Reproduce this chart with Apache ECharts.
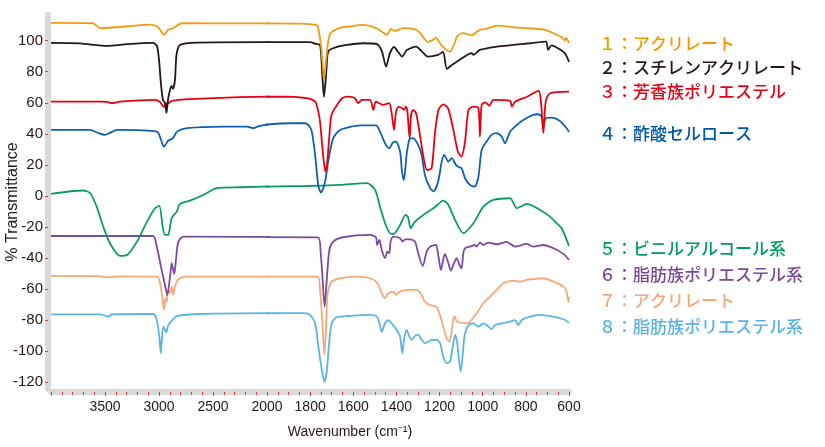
<!DOCTYPE html>
<html><head><meta charset="utf-8">
<script src="https://cdn.jsdelivr.net/npm/echarts@6/dist/echarts.min.js"></script>
<style>html,body{margin:0;padding:0;background:#fff}#c{width:825px;height:447px}</style>
</head><body><div id="c"></div>
<script>
// [wavenumber (cm-1), % transmittance (offset)] pairs
const acrylate1 = [[4000,111.4],[3611,111.2],[3546,108.0],[3315,109.1],[3083,110.3],[3009,108.8],[2954,103.7],[2917,106.9],[2870,108.0],[2787,111.2],[2157,111.1],[1847,110.9],[1773,110.1],[1764,108.8],[1750,97.2],[1740,81.1],[1736,74.7],[1726,87.6],[1708,104.3],[1662,108.2],[1615,109.1],[1555,110.1],[1494,108.0],[1466,105.6],[1444,103.7],[1425,107.5],[1407,106.2],[1370,108.0],[1314,107.2],[1291,105.0],[1254,99.2],[1230,100.5],[1217,101.7],[1189,96.6],[1152,92.9],[1128,99.2],[1119,102.6],[1091,104.8],[1054,103.4],[1013,106.9],[975,108.0],[934,109.7],[841,108.4],[795,108.0],[711,106.9],[656,103.7],[628,101.7],[619,99.8],[614,101.7],[600,98.5]];
const styreneAcrylate2 = [[4000,98.5],[3731,98.2],[3481,96.6],[3296,97.7],[3056,98.5],[3019,96.6],[3000,87.6],[2981,71.5],[2963,61.8],[2944,59.9],[2931,53.5],[2917,61.8],[2898,68.3],[2884,70.8],[2870,68.9],[2852,74.7],[2838,90.8],[2806,97.2],[2648,98.7],[2065,99.0],[1801,99.0],[1773,97.9],[1754,97.2],[1745,81.1],[1736,63.8],[1726,77.9],[1717,92.7],[1694,95.1],[1629,97.2],[1555,98.3],[1490,97.7],[1467,92.9],[1448,83.3],[1430,91.9],[1411,95.9],[1393,92.9],[1374,89.7],[1351,94.0],[1309,96.1],[1281,92.9],[1254,89.7],[1207,90.8],[1184,92.7],[1166,81.8],[1142,84.4],[1119,86.5],[1073,90.8],[1051,91.9],[1043,90.8],[1013,94.0],[934,96.1],[860,97.2],[781,98.3],[707,99.4],[697,94.0],[681,96.9],[651,95.1],[619,91.9],[600,86.3]];
const aromaticPolyester3 = [[4000,60.7],[3546,60.7],[3481,60.5],[3435,59.7],[3361,60.7],[3037,61.8],[2991,60.5],[2954,57.3],[2935,59.2],[2912,59.7],[2880,61.2],[2713,62.3],[2250,63.6],[1907,63.9],[1814,62.9],[1777,60.7],[1764,55.4],[1754,47.6],[1740,26.4],[1729,15.6],[1722,20.0],[1713,34.8],[1701,52.2],[1675,58.6],[1652,62.9],[1624,63.9],[1592,62.9],[1578,59.7],[1560,61.8],[1522,61.8],[1507,55.4],[1495,60.7],[1462,58.6],[1434,59.7],[1423,54.1],[1411,42.5],[1402,54.1],[1390,57.5],[1374,56.5],[1365,55.4],[1356,57.5],[1349,54.1],[1339,37.3],[1332,52.2],[1323,55.4],[1309,53.3],[1291,39.3],[1274,24.5],[1258,16.7],[1237,17.8],[1221,41.2],[1205,55.4],[1184,59.0],[1161,56.5],[1138,43.8],[1115,28.5],[1098,25.3],[1082,35.0],[1066,55.4],[1043,57.5],[1020,56.5],[1013,38.2],[1005,58.6],[989,60.3],[969,58.1],[951,61.8],[873,61.2],[865,57.5],[850,60.7],[795,63.9],[741,67.6],[730,60.7],[719,40.4],[708,60.7],[688,66.1],[600,67.2]];
const celluloseAcetate4 = [[4000,42.5],[3639,42.5],[3565,40.6],[3500,39.3],[3454,40.6],[3389,42.5],[3019,41.4],[2981,36.1],[2954,31.7],[2917,35.4],[2870,37.2],[2833,41.4],[2741,43.6],[2407,44.6],[2185,44.6],[2130,43.6],[2065,45.1],[1893,46.8],[1824,46.8],[1801,44.4],[1791,40.6],[1777,26.4],[1762,6.4],[1750,2.3],[1731,9.0],[1716,22.5],[1693,37.2],[1662,42.5],[1615,44.4],[1569,45.4],[1495,45.4],[1476,41.4],[1453,33.9],[1433,30.7],[1416,34.5],[1402,35.0],[1383,28.5],[1374,15.5],[1365,10.3],[1353,26.4],[1339,36.7],[1323,37.2],[1299,32.8],[1283,26.4],[1268,13.5],[1244,5.0],[1228,2.9],[1207,9.0],[1190,22.1],[1179,26.4],[1159,22.1],[1144,24.3],[1121,19.3],[1098,17.8],[1082,11.4],[1059,7.1],[1038,6.0],[1020,12.2],[1005,29.6],[982,35.0],[959,39.3],[936,40.4],[912,38.2],[897,33.9],[873,41.4],[842,45.7],[812,48.9],[766,52.2],[743,52.6],[727,51.1],[719,45.7],[707,50.0],[681,50.4],[642,48.3],[611,43.6],[600,41.2]];
const vinylAlcohol5 = [[4000,1.3],[3704,3.5],[3639,1.9],[3577,-6.9],[3516,-19.8],[3454,-30.5],[3361,-38.6],[3296,-38.0],[3204,-29.4],[3111,-16.5],[3037,-7.9],[2997,-6.4],[2966,-19.8],[2944,-25.1],[2914,-25.1],[2898,-20.0],[2882,-14.2],[2836,-10.1],[2806,-5.1],[2713,-3.0],[2590,0.6],[2466,5.0],[2250,5.6],[1819,6.4],[1662,7.1],[1536,8.2],[1499,3.9],[1476,-6.9],[1453,-17.4],[1430,-24.0],[1414,-24.5],[1383,-18.7],[1358,-12.2],[1346,-13.7],[1334,-20.8],[1314,-16.5],[1275,-12.2],[1229,-7.9],[1182,-3.0],[1159,-5.8],[1128,-15.5],[1090,-24.0],[1043,-17.6],[997,-6.9],[951,-2.6],[873,-1.5],[842,-7.9],[795,-5.1],[734,-9.0],[688,-13.3],[657,-17.6],[634,-20.8],[600,-32.2]];
const aliphaticPolyester6 = [[4000,-25.8],[3056,-25.8],[3021,-32.7],[2975,-47.7],[2935,-60.5],[2923,-63.8],[2898,-52.2],[2882,-43.3],[2868,-47.7],[2858,-50.2],[2843,-41.2],[2821,-29.4],[2775,-26.2],[1764,-26.7],[1751,-36.9],[1742,-54.1],[1733,-71.3],[1723,-54.1],[1711,-34.8],[1693,-29.4],[1648,-26.6],[1522,-25.1],[1495,-26.6],[1489,-31.6],[1479,-28.3],[1468,-34.8],[1453,-40.1],[1442,-35.9],[1433,-36.9],[1427,-29.4],[1414,-26.2],[1383,-27.2],[1371,-29.4],[1360,-27.9],[1337,-27.9],[1314,-29.4],[1299,-36.9],[1278,-45.1],[1260,-35.9],[1244,-32.6],[1229,-31.9],[1216,-31.6],[1205,-39.1],[1194,-47.7],[1182,-40.1],[1175,-37.4],[1159,-43.3],[1148,-48.1],[1133,-43.3],[1121,-40.1],[1108,-44.4],[1098,-46.6],[1090,-36.9],[1082,-33.7],[1059,-32.6],[1036,-31.6],[1028,-32.6],[1013,-30.0],[997,-31.6],[974,-30.0],[936,-31.1],[889,-29.6],[850,-32.6],[796,-30.9],[766,-32.6],[719,-31.6],[672,-33.7],[626,-37.3],[600,-41.2]];
const acrylate7 = [[4000,-51.5],[3546,-51.7],[3481,-52.4],[3361,-51.8],[3016,-52.0],[2985,-58.4],[2966,-67.0],[2954,-73.4],[2942,-65.9],[2929,-68.1],[2915,-60.5],[2898,-62.6],[2882,-58.4],[2868,-63.7],[2852,-58.4],[2821,-53.6],[2744,-52.0],[1767,-52.0],[1754,-60.5],[1744,-79.9],[1734,-102.4],[1726,-84.2],[1719,-62.7],[1700,-55.2],[1662,-53.0],[1584,-52.0],[1522,-53.0],[1488,-56.2],[1468,-62.7],[1453,-65.9],[1438,-62.7],[1414,-61.6],[1402,-63.7],[1383,-61.6],[1352,-60.5],[1306,-60.5],[1283,-63.7],[1268,-68.1],[1244,-70.2],[1212,-71.7],[1183,-84.2],[1167,-91.6],[1155,-93.8],[1144,-87.4],[1136,-78.7],[1128,-77.7],[1121,-80.9],[1074,-82.0],[1059,-80.9],[1028,-75.5],[997,-69.1],[966,-64.8],[935,-60.5],[904,-56.2],[858,-54.5],[827,-55.2],[796,-54.1],[719,-53.0],[672,-55.2],[626,-58.4],[611,-61.6],[603,-68.1],[600,-65.0]];
const aliphaticPolyester8 = [[4000,-76.2],[3546,-76.2],[3469,-77.7],[3435,-76.2],[3053,-76.0],[3021,-79.8],[2997,-90.6],[2984,-101.3],[2972,-90.6],[2960,-84.2],[2944,-86.3],[2932,-87.9],[2917,-83.7],[2898,-81.6],[2868,-79.4],[2833,-77.3],[2620,-76.0],[1893,-75.5],[1833,-75.5],[1801,-76.6],[1777,-82.0],[1762,-97.0],[1746,-112.0],[1734,-119.6],[1723,-113.1],[1712,-94.8],[1700,-82.0],[1677,-78.1],[1615,-77.3],[1522,-76.6],[1491,-77.7],[1479,-82.0],[1468,-87.4],[1453,-82.0],[1438,-79.9],[1422,-82.0],[1399,-86.3],[1383,-90.6],[1373,-101.3],[1365,-92.7],[1353,-86.3],[1340,-90.6],[1329,-92.7],[1314,-90.1],[1299,-89.5],[1283,-92.7],[1268,-94.8],[1252,-93.8],[1237,-92.7],[1214,-92.7],[1198,-94.8],[1183,-103.5],[1167,-107.7],[1152,-106.7],[1139,-97.0],[1128,-89.5],[1118,-94.8],[1110,-105.6],[1102,-113.1],[1095,-105.6],[1085,-90.6],[1074,-85.2],[1059,-82.4],[1043,-82.0],[1020,-84.2],[997,-82.0],[982,-83.1],[959,-85.6],[943,-83.1],[912,-82.0],[873,-80.9],[850,-79.9],[835,-83.1],[819,-79.9],[781,-77.7],[734,-76.6],[672,-77.7],[626,-79.4],[600,-81.6]];

const seriesLabels = ['１：アクリレート','２：スチレンアクリレート','３：芳香族ポリエステル','４：酢酸セルロース','５：ビニルアルコール系','６：脂肪族ポリエステル系','７：アクリレート','８：脂肪族ポリエステル系'];
const lineColors = ['#f29a12','#231815','#e60012','#1160b0','#0b9b6b','#7b4b9d','#f5a878','#5cb4e6'];
const textColors = ['#f39800','#231815','#e60012','#0057a8','#009a63','#7a4a9a','#f5a67a','#58b2e4'];
const labelY = [44, 68, 92, 134, 249, 275, 301, 327];
const yTickValues = [100,80,60,40,20,0,-20,-40,-60,-80,-100,-120];

const allData = [acrylate1, styreneAcrylate2, aromaticPolyester3, celluloseAcetate4, vinylAlcohol5, aliphaticPolyester6, acrylate7, aliphaticPolyester8];

const tickRed = '#e8383d';
const band = '#d9d9d9';
const textDark = '#231815';

const series = [];
allData.forEach((d, i) => {
  [0, 1].forEach(g => {
    series.push({
      type: 'line', name: seriesLabels[i], xAxisIndex: g, yAxisIndex: g,
      data: d, symbol: 'none', showSymbol: false, smooth: 0.25, clip: true,
      lineStyle: { color: lineColors[i], width: 1.8 }, itemStyle: { color: lineColors[i] },
      silent: true, animation: false, z: 10 - i
    });
  });
});

function xAxisBase(g, min, max, interval, minorSplit, formatter) {
  return {
    type: 'value', gridIndex: g, min: min, max: max, interval: interval, inverse: true, offset: 3,
    axisLine: { show: true, onZero: false, lineStyle: { color: band, width: 6 } },
    axisTick: { show: true, length: 4, lineStyle: { color: tickRed, width: 1 } },
    minorTick: { show: true, splitNumber: minorSplit, length: 3, lineStyle: { color: tickRed, width: 1 } },
    axisLabel: { color: textDark, fontSize: 14, fontFamily: 'Liberation Sans', margin: 8, formatter: formatter },
    splitLine: { show: false }, minorSplitLine: { show: false }
  };
}

const option = {
  backgroundColor: '#ffffff',
  animation: false,
  grid: [
    { left: 51, width: 216, top: 15, bottom: 58 },
    { left: 267, width: 302, top: 15, bottom: 58 }
  ],
  xAxis: [
    xAxisBase(0, 2000, 4000, 500, 5, v => (v === 4000 || v === 2000) ? '' : String(v)),
    xAxisBase(1, 600, 2000, 200, 4, v => String(v))
  ],
  yAxis: [
    {
      type: 'value', gridIndex: 0, min: -124.3, max: 116.5, offset: 3,
      axisLine: { show: true, onZero: false, lineStyle: { color: band, width: 6 } },
      axisTick: { show: true, customValues: yTickValues, length: 3, lineStyle: { color: tickRed, width: 1 } },
      axisLabel: { customValues: yTickValues, color: textDark, fontSize: 15, fontFamily: 'Liberation Sans', margin: 5 },
      splitLine: { show: false },
      name: '% Transmittance', nameLocation: 'middle', nameRotate: 90, nameGap: 27, nameMoveOverlap: false,
      nameTextStyle: { color: textDark, fontSize: 16, fontFamily: 'Liberation Sans' }
    },
    { type: 'value', gridIndex: 1, min: -124.3, max: 116.5, show: false }
  ],
  graphic: seriesLabels.map((t, i) => ({
    type: 'text', x: 599, y: labelY[i], silent: true,
    style: { text: t, fill: textColors[i], font: '500 17px "Noto Sans CJK JP"', align: 'left', verticalAlign: 'middle' }
  })).concat([{
    type: 'text', x: 350, y: 432, silent: true,
    style: { text: 'Wavenumber (cm⁻¹)', fill: textDark, font: '14px "Liberation Sans"', align: 'center', verticalAlign: 'middle' }
  }]),
  series: series
};

const chart = echarts.init(document.getElementById('c'), null, { renderer: 'canvas' });
chart.setOption(option);
</script>
</body></html>
